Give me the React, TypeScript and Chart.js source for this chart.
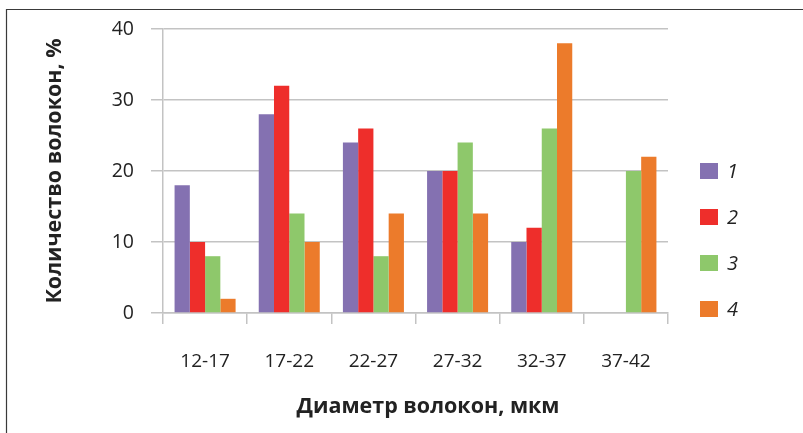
import React, { useEffect, useRef } from "react";
import { Chart, registerables } from "chart.js";

Chart.register(...registerables);

const categories = ["12-17", "17-22", "22-27", "27-32", "32-37", "37-42"];
const seriesLabels = ["1", "2", "3", "4"];
const series1 = [18, 28, 24, 20, 10, 0];
const series2 = [10, 32, 26, 20, 12, 0];
const series3 = [8, 14, 8, 24, 26, 20];
const series4 = [2, 10, 14, 14, 38, 22];
const colors = ["#8471B1", "#EE2E2B", "#8EC86B", "#EC7B2B"];
const yTicks = [0, 10, 20, 30, 40];
const xTitle = "Диаметр волокон, мкм";
const yTitle = "Количество волокон, %";

const FONT = "'Open Sans', sans-serif";

const decorPlugin = {
  id: "decor",
  afterDraw(chart: any) {
    const ctx = chart.ctx;
    ctx.save();
    // outer frame
    ctx.strokeStyle = "#3a3a3a";
    ctx.lineWidth = 1.2;
    ctx.beginPath();
    ctx.moveTo(6.5, 440);
    ctx.lineTo(6.5, 9.5);
    ctx.lineTo(810, 9.5);
    ctx.stroke();

    // x axis title
    ctx.fillStyle = "#222";
    ctx.font = `bold 21.5px ${FONT}`;
    ctx.textAlign = "center";
    ctx.textBaseline = "middle";
    ctx.fillText(xTitle, 428, 407);

    // legend
    const ds = chart.data.datasets;
    const rowY = [171, 217, 263, 309];
    ctx.font = `italic 20px ${FONT}`;
    ctx.textAlign = "left";
    ds.forEach((d: any, i: number) => {
      const y = rowY[i];
      ctx.fillStyle = d.backgroundColor;
      ctx.fillRect(700, y - 8, 18, 16);
      ctx.fillStyle = "#222";
      ctx.fillText(d.label, 727, y + 1);
    });
    ctx.restore();
  },
};

export default function App() {
  const ref = useRef<HTMLCanvasElement | null>(null);

  useEffect(() => {
    if (!ref.current) return;
    const datasets = [series1, series2, series3, series4].map((data, i) => ({
      label: seriesLabels[i],
      data,
      backgroundColor: colors[i],
      borderWidth: 0,
      barPercentage: 1,
      categoryPercentage: 0.725,
    }));
    const chart = new Chart(ref.current, {
      type: "bar",
      data: { labels: categories, datasets },
      plugins: [decorPlugin],
      options: {
        animation: false,
        responsive: false,
        maintainAspectRatio: false,
        layout: { padding: { left: 0, top: 29, right: 135, bottom: 0 } },
        plugins: {
          legend: { display: false },
          tooltip: { enabled: false },
        },
        scales: {
          x: {
            grid: {
              display: true,
              drawOnChartArea: false,
              drawTicks: true,
              tickLength: 11,
              color: "#c3c3c3",
              lineWidth: 1.5,
              offset: true,
            },
            border: { display: true, color: "#c3c3c3", width: 1.5 },
            ticks: {
              color: "#222",
              font: { family: FONT, size: 19 },
              padding: 26,
              maxRotation: 0,
            },
            afterFit(scale: any) {
              scale.height = 120;
            },
          },
          y: {
            min: 0,
            max: 40,
            afterBuildTicks(scale: any) {
              scale.ticks = yTicks.map((v) => ({ value: v }));
            },
            grid: {
              color: "#c3c3c3",
              lineWidth: 1.5,
              drawTicks: true,
              tickLength: 12,
            },
            border: { display: true, color: "#c3c3c3", width: 1.5 },
            ticks: {
              color: "#222",
              font: { family: FONT, size: 19.5 },
              padding: 17,
            },
            title: {
              display: true,
              text: yTitle,
              color: "#222",
              font: { family: FONT, size: 21.5, weight: "bold" },
              padding: { top: 42, bottom: 0 },
            },
            afterFit(scale: any) {
              scale.width = 163;
            },
          },
        },
      },
    } as any);
    return () => chart.destroy();
  }, []);

  return (
    <div style={{ position: "fixed", left: 0, top: 0, width: 803, height: 433, background: "#fff" }}>
      <canvas ref={ref} width={803} height={433} style={{ width: 803, height: 433 }} />
    </div>
  );
}
